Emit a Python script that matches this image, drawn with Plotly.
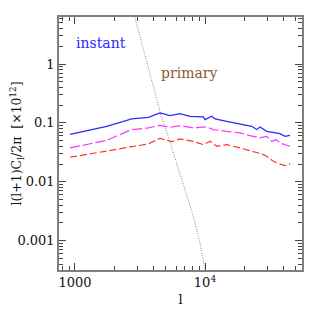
import plotly.graph_objects as go

# ---- data ----
l_instant = [915, 1753, 2730, 3664, 4507, 5381, 6424, 7666, 9703, 10000, 11260, 11940,
             14690, 18040, 18590, 22870, 24990, 26490, 29830, 33530, 37760, 41260, 45070]
v_instant = [0.0640, 0.0876, 0.1169, 0.1245, 0.1479, 0.133, 0.1438, 0.1294, 0.1264, 0.1138,
             0.1294, 0.1169, 0.1065, 0.0973, 0.0936, 0.0876, 0.0770, 0.0855, 0.0720, 0.0692,
             0.0658, 0.0592, 0.0616]

l_mag = [915, 1753, 2730, 3664, 4507, 5381, 6424, 8128, 10306, 11580, 14690, 18590,
         22190, 26490, 29830, 32600, 35170, 38900, 45070]
v_mag = [0.0376, 0.0507, 0.0770, 0.0822, 0.0911, 0.0842, 0.0900, 0.0822, 0.0855, 0.0770,
         0.0720, 0.0676, 0.0609, 0.0556, 0.0592, 0.0487, 0.0521, 0.0445, 0.0401]

l_red = [915, 1753, 2730, 3664, 4507, 4924, 5544, 6424, 8128, 9703, 10925, 12300,
         14690, 18590, 23520, 25700, 28090, 29830, 33530, 36640, 41260, 45070]
v_red = [0.0261, 0.0330, 0.0385, 0.0440, 0.0548, 0.0521, 0.0481, 0.0535, 0.0487, 0.0428,
         0.0487, 0.0401, 0.0428, 0.0376, 0.0330, 0.0309, 0.0290, 0.0271, 0.0223, 0.0204,
         0.0188, 0.0204]

l_primary = [2750, 2894, 3454, 4125, 4640, 5212, 6057, 7215, 8123, 9150, 10000, 10300]
v_primary = [10.0, 6.06, 1.40, 0.323, 0.123, 0.0592, 0.0209, 0.00648, 0.00260, 0.000918,
             0.000323, 0.0001]

y_ticks = [0.001, 0.01, 0.1, 1]
y_ticktext = ["0.001", "0.01", "0.1", "1"]
x_ticks = [1000, 10000]
x_ticktext = ["1000", "10<sup>4</sup>"]

x_minor = [800, 900] + [k * 1000 for k in range(2, 10)] + [k * 10000 for k in range(2, 6)]
y_minor = []
for d in [0.0001, 0.001, 0.01, 0.1, 1]:
    y_minor += [k * d for k in range(2, 10)]

FONT = "DejaVu Serif"

fig = go.Figure()
fig.add_trace(go.Scatter(x=l_primary, y=v_primary, mode="lines",
                         line=dict(color="#a87a55", width=1, dash="1px,1.5px")))
fig.add_trace(go.Scatter(x=l_red, y=v_red, mode="lines",
                         line=dict(color="#ff3333", width=1.2, dash="7px,3px")))
fig.add_trace(go.Scatter(x=l_mag, y=v_mag, mode="lines",
                         line=dict(color="#ff33ff", width=1.2, dash="10px,3px")))
fig.add_trace(go.Scatter(x=l_instant, y=v_instant, mode="lines",
                         line=dict(color="#2a2aff", width=1.2)))

axis_common = dict(showgrid=False, zeroline=False, showline=True, linecolor="#808080",
                   linewidth=1.5, mirror="ticks", ticks="inside", ticklen=7,
                   tickcolor="#444", tickwidth=1, automargin=False,
                   tickfont=dict(family=FONT, size=13, color="#111"))

fig.update_xaxes(type="log", range=[2.877, 4.746], tickmode="array",
                 tickvals=x_ticks, ticktext=x_ticktext,
                 minor=dict(tickmode="array", tickvals=x_minor, ticks="inside",
                            ticklen=4, tickcolor="#444", showgrid=False),
                 title=dict(text="l", font=dict(family=FONT, size=13, color="#111"),
                            standoff=6),
                 **axis_common)
fig.update_yaxes(type="log", range=[-3.497, 0.798], tickmode="array",
                 tickvals=y_ticks, ticktext=y_ticktext,
                 minor=dict(tickmode="array", tickvals=y_minor, ticks="inside",
                            ticklen=4, tickcolor="#444", showgrid=False),
                 title=dict(text="l(l+1)C<sub>l</sub>/2π  [×10<sup>12</sup>]",
                            font=dict(family=FONT, size=12.5, color="#111"), standoff=4),
                 **axis_common)

# page body has an 8px default margin: compensate so the plot box lands at
# x 59..302, y 17..270 of the 319x319 window
OFF = 8
W, H = 319 - OFF, 319 - OFF
ml, mr, mt, mb = 59 - OFF, 17, 17 - OFF, 49
pw, ph = W - ml - mr, H - mt - mb


def px_to_paper(xp, yp):
    xp -= OFF
    yp -= OFF
    return (xp - ml) / pw, 1 - (yp - mt) / ph


ix, iy = px_to_paper(101, 43)
fig.add_annotation(x=ix, y=iy, xref="paper", yref="paper", text="instant",
                   xanchor="center", yanchor="middle",
                   showarrow=False, font=dict(family=FONT, size=14, color="#2a2aff"))
px_, py_ = px_to_paper(189, 73)
fig.add_annotation(x=px_, y=py_, xref="paper", yref="paper", text="primary",
                   xanchor="center", yanchor="middle",
                   showarrow=False, font=dict(family=FONT, size=14, color="#8c5a32"))

fig.update_layout(width=W, height=H, margin=dict(l=ml, r=mr, t=mt, b=mb, autoexpand=False),
                  paper_bgcolor="white", plot_bgcolor="white", showlegend=False)

fig.write_html("out.html")
